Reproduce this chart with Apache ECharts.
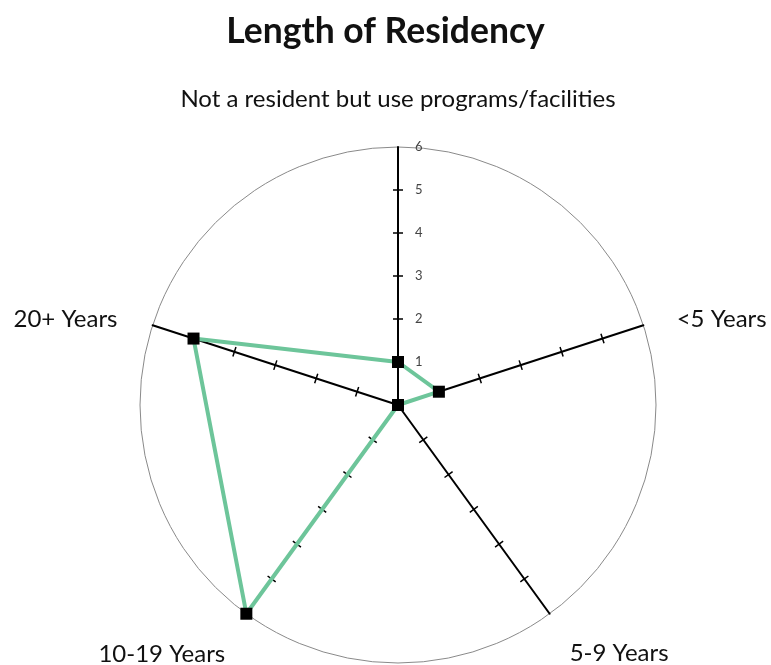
<!DOCTYPE html>
<html>
<head>
<meta charset="utf-8">
<style>
  html, body { margin: 0; padding: 0; background: #ffffff; }
  #chart { width: 771px; height: 665px; }
</style>
<script src="https://cdn.jsdelivr.net/npm/echarts@6/dist/echarts.min.js"></script>
</head>
<body>
<div id="chart"></div>
<script>
// Radar spokes, listed counter-clockwise starting from the top
const indicatorNames = [
  'Not a resident but use programs/facilities',
  '20+ Years',
  '10-19 Years',
  '5-9 Years',
  '<5 Years'
];
const indicatorMax = 6;
const responseCounts = [1, 5, 6, 0, 1];
const scaleTicks = [1, 2, 3, 4, 5];
const scaleLabels = [1, 2, 3, 4, 5, 6];

const FONT = 'Lato';
const CENTER = [398, 405];
const RADIUS = 258;

// per-spoke name placement: distance from the rim and a rich-text style key
const nameGaps = [36, 37, 36, 34, 35];
const nameStyleKeys = ['n0', 'n1', 'n2', 'n3', 'n4'];
const namePadTop = [0, 11, 22, 25, 10];

const nameRich = {};
nameStyleKeys.forEach((k, i) => {
  nameRich[k] = {
    fontFamily: FONT,
    fontSize: 24,
    color: '#111',
    padding: [namePadTop[i], 0, 0, 0]
  };
});

const indicators = indicatorNames.map((name, i) => {
  const ind = { name: name, min: 0, max: indicatorMax, nameGap: nameGaps[i] };
  if (i === 0) {
    ind.axisLabel = {
      show: true,
      customValues: scaleLabels,
      color: '#444',
      fontSize: 13,
      fontFamily: FONT,
      margin: 0,
      align: 'left',
      verticalAlign: 'middle',
      padding: [0, 0, 0, 17]
    };
  }
  return ind;
});

const plainIndicators = () =>
  indicatorNames.map(() => ({ name: '', min: 0, max: indicatorMax }));

// frame: spokes, names, value labels and the outer rim
const frameRadar = {
  center: CENTER,
  radius: RADIUS,
  startAngle: 90,
  shape: 'circle',
  splitNumber: 6,
  indicator: indicators,
  axisName: {
    color: '#111',
    fontSize: 24,
    fontFamily: FONT,
    formatter: (name) => {
      const idx = indicatorNames.indexOf(name);
      return '{' + nameStyleKeys[idx] + '|' + name + '}';
    },
    rich: nameRich
  },
  axisLine: { show: true, lineStyle: { color: '#000', width: 2 } },
  axisTick: { show: false },
  axisLabel: { show: false },
  splitLine: {
    show: true,
    lineStyle: {
      color: ['rgba(0,0,0,0)', 'rgba(0,0,0,0)', 'rgba(0,0,0,0)', 'rgba(0,0,0,0)',
              'rgba(0,0,0,0)', 'rgba(0,0,0,0)', '#8a8a8a'],
      width: 1
    }
  },
  splitArea: { show: false }
};

// tick marks: one copy per side of each spoke
function tickRadar(len) {
  return {
    center: CENTER,
    radius: RADIUS,
    startAngle: 90,
    shape: 'circle',
    splitNumber: 6,
    indicator: plainIndicators(),
    axisName: { show: false },
    axisLine: { show: true, lineStyle: { color: 'rgba(0,0,0,0)', width: 1 } },
    axisTick: {
      show: true,
      length: len,
      customValues: scaleTicks,
      lineStyle: { color: '#000', width: 1.5 }
    },
    axisLabel: { show: false },
    splitLine: { show: false },
    splitArea: { show: false }
  };
}

const chart = echarts.init(document.getElementById('chart'), null, { renderer: 'canvas' });
chart.setOption({
  backgroundColor: '#ffffff',
  animation: false,
  title: {
    text: 'Length of Residency',
    left: 'center',
    top: 9,
    textStyle: { fontFamily: FONT, fontWeight: 'bold', fontSize: 35.5, color: '#111' }
  },
  radar: [frameRadar, tickRadar(5), tickRadar(-5)],
  series: [{
    type: 'radar',
    radarIndex: 0,
    symbol: 'rect',
    symbolSize: 12,
    itemStyle: { color: '#000' },
    lineStyle: { color: '#6dc59a', width: 4 },
    data: [{ value: responseCounts, name: 'Length of Residency' }]
  }]
});
</script>
</body>
</html>
